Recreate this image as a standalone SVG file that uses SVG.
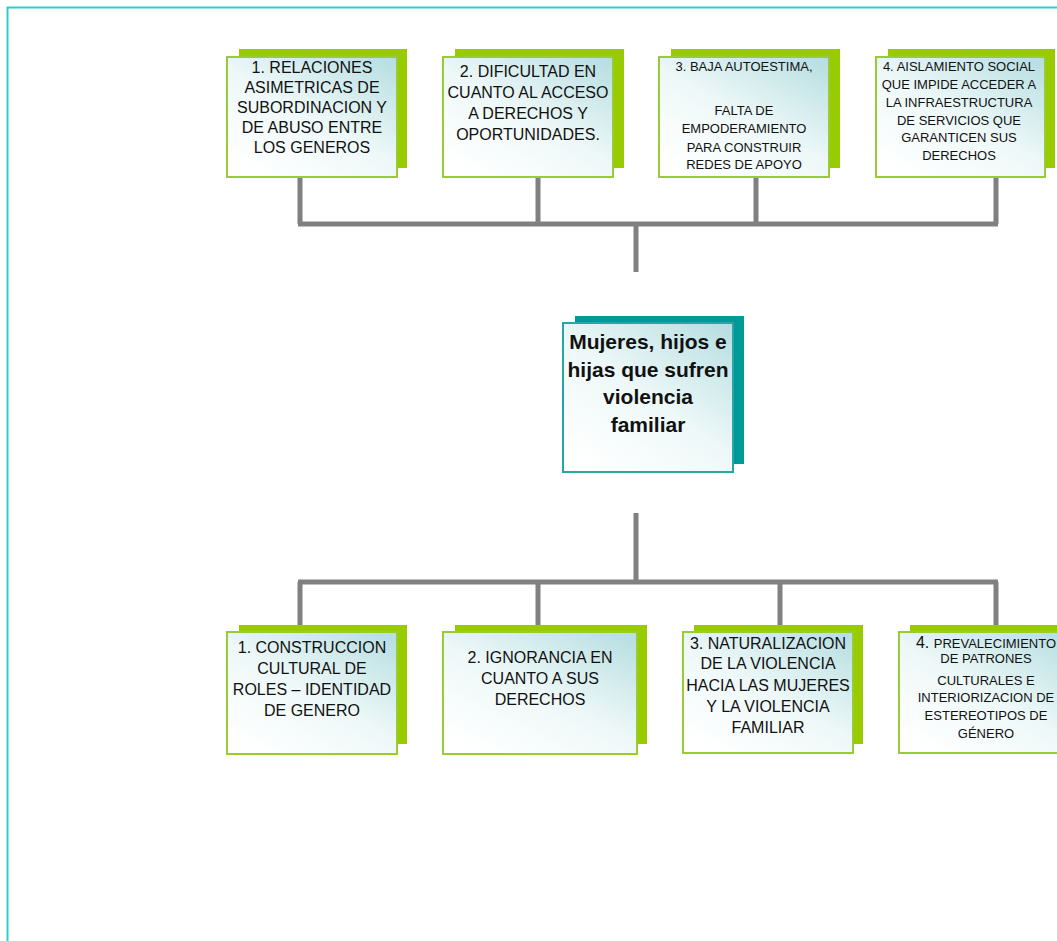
<svg xmlns="http://www.w3.org/2000/svg" width="1057" height="941" viewBox="0 0 1057 941">
<defs>
<linearGradient id="g" x1="1" y1="0" x2="0.2" y2="1">
<stop offset="0" stop-color="#b4dde0"/>
<stop offset="0.55" stop-color="#eef8f8"/>
<stop offset="1" stop-color="#ffffff"/>
</linearGradient>
<style>
.sh{fill:#99cc00}
.bx{fill:url(#g);stroke:#99cc33;stroke-width:2}
.shc{fill:#009999}
.bxc{fill:url(#g);stroke:#26a6a6;stroke-width:2}
.t{font-family:"Liberation Sans",Arial,sans-serif;font-size:16px;fill:#111;text-anchor:middle}
.s{font-size:13px}
.c{font-family:"Liberation Sans",Arial,sans-serif;font-size:21px;font-weight:bold;fill:#111;text-anchor:middle}
.ln{stroke:#808080;stroke-width:5;fill:none}
</style>
</defs>
<rect x="7.5" y="7.5" width="1100" height="1000" fill="none" stroke="#33cccc" stroke-width="2"/>
<g id="connectors">
<path class="ln" d="M300 177V224M538 177V224M756 177V224M996 177V224M298 224H998M636 224V272"/>
<path class="ln" d="M636 513V582M298 582H998M300 582V630M538 582V630M780 582V630M996 582V630"/>
</g>
<g id="top1">
<rect class="sh" x="239" y="49" width="168" height="119"/>
<rect class="bx" x="227" y="57" width="170" height="120"/>
<text class="t"><tspan x="312" y="73">1. RELACIONES</tspan><tspan x="312" y="93">ASIMETRICAS DE</tspan><tspan x="312" y="113">SUBORDINACION Y</tspan><tspan x="312" y="133">DE ABUSO ENTRE</tspan><tspan x="312" y="153">LOS GENEROS</tspan></text>
</g>
<g id="top2">
<rect class="sh" x="455" y="49" width="169" height="119"/>
<rect class="bx" x="443" y="57" width="170" height="120"/>
<text class="t"><tspan x="528" y="77">2. DIFICULTAD EN</tspan><tspan x="528" y="98">CUANTO AL ACCESO</tspan><tspan x="528" y="119">A DERECHOS Y</tspan><tspan x="528" y="140">OPORTUNIDADES.</tspan></text>
</g>
<g id="top3">
<rect class="sh" x="671" y="49" width="169" height="119"/>
<rect class="bx" x="659" y="57" width="170" height="120"/>
<text class="t s"><tspan x="744" y="71">3. BAJA AUTOESTIMA,</tspan><tspan x="744" y="115">FALTA DE</tspan><tspan x="744" y="133">EMPODERAMIENTO</tspan><tspan x="744" y="152">PARA CONSTRUIR</tspan><tspan x="744" y="169">REDES DE APOYO</tspan></text>
</g>
<g id="top4">
<rect class="sh" x="888" y="49" width="167" height="119"/>
<rect class="bx" x="876" y="57" width="169" height="120"/>
<text class="t s"><tspan x="959" y="71">4. AISLAMIENTO SOCIAL</tspan><tspan x="959" y="89">QUE IMPIDE ACCEDER A</tspan><tspan x="959" y="107">LA INFRAESTRUCTURA</tspan><tspan x="959" y="125">DE SERVICIOS QUE</tspan><tspan x="959" y="142">GARANTICEN SUS</tspan><tspan x="959" y="160">DERECHOS</tspan></text>
</g>
<g id="center">
<rect class="shc" x="575" y="316" width="169" height="148"/>
<rect class="bxc" x="563" y="323" width="170" height="149"/>
<text class="c"><tspan x="648" y="349">Mujeres, hijos e</tspan><tspan x="648" y="377">hijas que sufren</tspan><tspan x="648" y="404">violencia</tspan><tspan x="648" y="432">familiar</tspan></text>
</g>
<g id="bot1">
<rect class="sh" x="239" y="625" width="168" height="119"/>
<rect class="bx" x="227" y="632" width="170" height="122"/>
<text class="t"><tspan x="312" y="653">1. CONSTRUCCION</tspan><tspan x="312" y="674">CULTURAL DE</tspan><tspan x="312" y="695">ROLES – IDENTIDAD</tspan><tspan x="312" y="716">DE GENERO</tspan></text>
</g>
<g id="bot2">
<rect class="sh" x="455" y="625" width="192" height="119"/>
<rect class="bx" x="443" y="632" width="194" height="122"/>
<text class="t"><tspan x="540" y="663">2. IGNORANCIA EN</tspan><tspan x="540" y="684">CUANTO A SUS</tspan><tspan x="540" y="705">DERECHOS</tspan></text>
</g>
<g id="bot3">
<rect class="sh" x="694" y="625" width="169" height="119"/>
<rect class="bx" x="683" y="632" width="170" height="121"/>
<text class="t"><tspan x="768" y="649">3. NATURALIZACION</tspan><tspan x="768" y="669">DE LA VIOLENCIA</tspan><tspan x="768" y="691">HACIA LAS MUJERES</tspan><tspan x="768" y="712">Y LA VIOLENCIA</tspan><tspan x="768" y="733">FAMILIAR</tspan></text>
</g>
<g id="bot4">
<rect class="sh" x="910" y="625" width="169" height="119"/>
<rect class="bx" x="899" y="632" width="170" height="121"/>
<text class="t s"><tspan x="986" y="648"><tspan style="font-size:16px">4. </tspan>PREVALECIMIENTO</tspan><tspan x="986" y="663">DE PATRONES</tspan><tspan x="986" y="685">CULTURALES E</tspan><tspan x="986" y="702">INTERIORIZACION DE</tspan><tspan x="986" y="720">ESTEREOTIPOS DE</tspan><tspan x="986" y="738">GÉNERO</tspan></text>
</g>
</svg>
